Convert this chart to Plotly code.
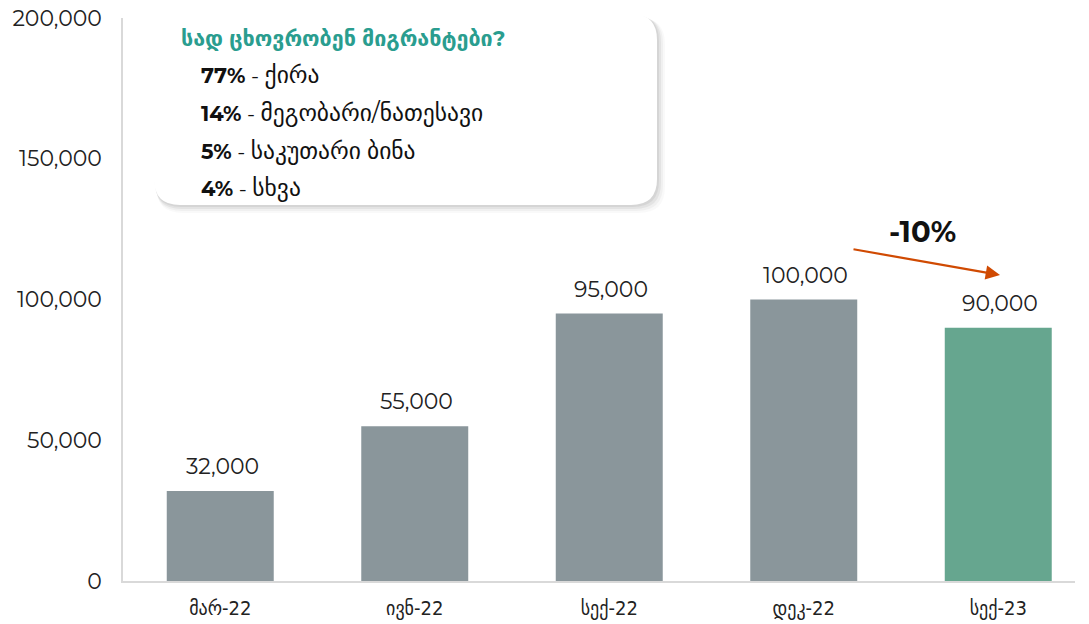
import plotly.graph_objects as go

categories = ["მარ-22", "ივნ-22", "სექ-22", "დეკ-22", "სექ-23"]
values = [32000, 55000, 95000, 100000, 90000]
bar_colors = ["#8A969B", "#8A969B", "#8A969B", "#8A969B", "#66A68F"]
value_labels = ["32,000", "55,000", "95,000", "100,000", "90,000"]

box_title = "სად ცხოვრობენ მიგრანტები?"
box_pcts = ["77%", "14%", "5%", "4%"]
box_items = ["ქირა", "მეგობარი/ნათესავი", "საკუთარი ბინა", "სხვა"]
change_label = "-10%"

OFF = 8  # page body margin in the browser
W, H = 1089 - OFF, 624 - OFF
L, R, T, B = 123 - OFF, 1075 - OFF, 18 - OFF, 581 - OFF
PW, PH = R - L, B - T

FONT = "Montserrat, 'Open Sans', 'DejaVu Sans', sans-serif"
GEO = "'DejaVu Sans Condensed', 'DejaVu Sans', sans-serif"


def px(x):
    return (x - OFF - L) / PW


def py(y):
    return (B - (y - OFF)) / PH


fig = go.Figure()
fig.add_trace(go.Bar(
    x=list(range(len(categories))), y=values,
    marker=dict(color=bar_colors, line=dict(width=0)),
    width=0.55, hoverinfo="skip",
))

# value labels
for i, (v, lab) in enumerate(zip(values, value_labels)):
    fig.add_annotation(x=i, y=v, text=lab, showarrow=False, yanchor="bottom",
                       xshift=2, yshift=9, font=dict(family=FONT, size=22, color="#222"))


def rounded(x0, y0, x1, y1, r):
    return (f"M {px(x0+r)},{py(y0)} L {px(x1-r)},{py(y0)} Q {px(x1)},{py(y0)} {px(x1)},{py(y0+r)} "
            f"L {px(x1)},{py(y1-r)} Q {px(x1)},{py(y1)} {px(x1-r)},{py(y1)} "
            f"L {px(x0+r)},{py(y1)} Q {px(x0)},{py(y1)} {px(x0)},{py(y1-r)} "
            f"L {px(x0)},{py(y0+r)} Q {px(x0)},{py(y0)} {px(x0+r)},{py(y0)} Z")


bx0, by0, bx1, by1 = 154, 14, 657, 205
for k, op in [(8, 0.025), (6, 0.035), (4, 0.05), (2, 0.06)]:
    fig.add_shape(type="path", xref="paper", yref="paper",
                  path=rounded(bx0 + k * 0.3, by0 + k * 0.5, bx1 + k, by1 + k, 26),
                  fillcolor=f"rgba(0,0,0,{op})", line=dict(width=0), layer="above")
fig.add_shape(type="path", xref="paper", yref="paper",
              path=rounded(bx0, by0, bx1, by1, 26),
              fillcolor="white", line=dict(width=0), layer="above")

fig.add_annotation(xref="paper", yref="paper", x=px(179), y=py(38), xanchor="left",
                   yanchor="middle", text=f"<b>{box_title}</b>", showarrow=False,
                   font=dict(family=FONT, size=21.5, color="#2A9D8F"))
for j, (p, it) in enumerate(zip(box_pcts, box_items)):
    fig.add_annotation(xref="paper", yref="paper", x=px(199), y=py(75 + j * 37.5),
                       xanchor="left", yanchor="middle",
                       text=f"<b>{p}</b> - <span style='font-size:23.5px'>{it}</span>",
                       showarrow=False, font=dict(family=FONT, size=21, color="#111"))

# change arrow
fig.add_annotation(xref="paper", yref="paper", x=px(1000), y=py(275),
                   ax=-148, ay=-26, axref="pixel", ayref="pixel",
                   text="", showarrow=True, arrowhead=2, arrowsize=1.3,
                   arrowwidth=2.2, arrowcolor="#D04A02")
fig.add_annotation(xref="paper", yref="paper", x=px(922), y=py(231),
                   xanchor="center", yanchor="middle", text=f"<b>{change_label}</b>",
                   showarrow=False, font=dict(family=FONT, size=29, color="#111"))

fig.update_layout(
    width=W, height=H, margin=dict(l=L, r=W - R, t=T, b=H - B, autoexpand=False),
    plot_bgcolor="white", paper_bgcolor="white", showlegend=False,
)
fig.update_xaxes(range=[-0.5, -0.5 + PW / 194.5], tickmode="array",
                 tickvals=list(range(len(categories))), ticktext=categories,
                 showline=True, linecolor="#D9D9D9", linewidth=1.5, showgrid=False,
                 zeroline=False, ticks="outside", ticklen=8, tickcolor="rgba(0,0,0,0)",
                 tickfont=dict(family=GEO, size=20, color="#222"), fixedrange=True,
                 automargin=False)
fig.update_yaxes(range=[0, 200000], tickvals=[0, 50000, 100000, 150000, 200000],
                 tickformat=",", showline=True, linecolor="#D9D9D9", linewidth=1.5,
                 showgrid=False, zeroline=False, ticks="outside", ticklen=15,
                 tickcolor="rgba(0,0,0,0)", tickfont=dict(family=FONT, size=22, color="#222"),
                 ticklabeloverflow="allow", fixedrange=True, automargin=False)

fig.write_html("out.html")
